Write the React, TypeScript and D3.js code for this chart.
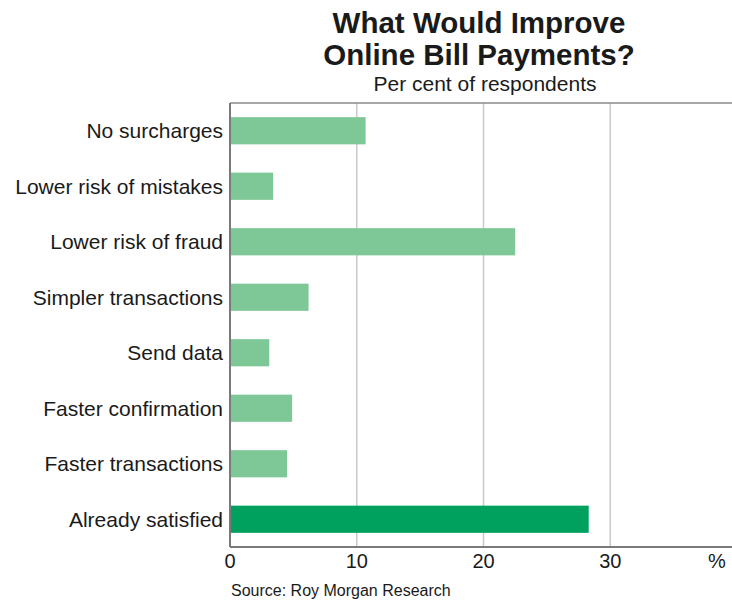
import React from "react";
import * as d3 from "d3";

const categories = [
  "No surcharges",
  "Lower risk of mistakes",
  "Lower risk of fraud",
  "Simpler transactions",
  "Send data",
  "Faster confirmation",
  "Faster transactions",
  "Already satisfied",
];
const values = [10.7, 3.4, 22.5, 6.2, 3.1, 4.9, 4.5, 28.3];
const highlight = [false, false, false, false, false, false, false, true];
const xTicks = [0, 10, 20, 30];
const titleLines = ["What Would Improve", "Online Bill Payments?"];
const subtitle = "Per cent of respondents";
const unitLabel = "%";
const source = "Source: Roy Morgan Research";

const W = 732;
const H = 601;
const left = 230;
const right = 737;
const top = 103;
const bottom = 547;
const font = "'Liberation Sans', Arial, Helvetica, sans-serif";

export default function App() {
  const x = d3.scaleLinear().domain([0, 40]).range([left, right]);
  const y = d3
    .scaleBand<string>()
    .domain(categories)
    .range([top, bottom])
    .paddingInner(0.51)
    .paddingOuter(0.255);

  return (
    <svg
      width={W}
      height={H}
      style={{ position: "absolute", left: 0, top: 0, background: "#fff" }}
      fontFamily={font}
    >
      <rect x={0} y={0} width={W} height={H} fill="#fff" />
      {titleLines.map((t, i) => (
        <text
          key={t}
          x={479}
          y={33 + i * 32}
          textAnchor="middle"
          fontSize={29.5}
          fontWeight="bold"
          fill="#1a1a1a"
        >
          {t}
        </text>
      ))}
      <text x={485} y={91} textAnchor="middle" fontSize={21} fill="#1a1a1a">
        {subtitle}
      </text>

      {/* grid */}
      {xTicks
        .filter((t) => t > 0)
        .map((t) => (
          <line
            key={t}
            x1={x(t)}
            x2={x(t)}
            y1={top}
            y2={bottom}
            stroke="#c9c9c9"
            strokeWidth={1.5}
          />
        ))}

      {/* bars */}
      {categories.map((c, i) => (
        <rect
          key={c}
          x={x(0)}
          y={y(c)}
          width={x(values[i]) - x(0)}
          height={y.bandwidth()}
          fill={highlight[i] ? "#00a05e" : "#7ec797"}
        />
      ))}

      {/* frame */}
      <line x1={left} x2={right} y1={top} y2={top} stroke="#8a8a8a" strokeWidth={1.5} />
      <line x1={right} x2={right} y1={top} y2={bottom} stroke="#8a8a8a" strokeWidth={1.5} />
      <line x1={left} x2={left} y1={top} y2={bottom} stroke="#7a7a7a" strokeWidth={2} />
      <line x1={left} x2={right} y1={bottom} y2={bottom} stroke="#7a7a7a" strokeWidth={2} />

      {/* category labels */}
      {categories.map((c) => (
        <text
          key={c}
          x={223}
          y={(y(c) as number) + y.bandwidth() / 2}
          dy="0.35em"
          textAnchor="end"
          fontSize={21}
          fill="#1a1a1a"
        >
          {c}
        </text>
      ))}

      {/* tick labels */}
      {xTicks.map((t) => (
        <text key={t} x={x(t)} y={568} textAnchor="middle" fontSize={20} fill="#1a1a1a">
          {t}
        </text>
      ))}
      <text x={717} y={568} textAnchor="middle" fontSize={20} fill="#1a1a1a">
        {unitLabel}
      </text>

      <text x={231} y={596} fontSize={16} fill="#1a1a1a">
        {source}
      </text>
    </svg>
  );
}
